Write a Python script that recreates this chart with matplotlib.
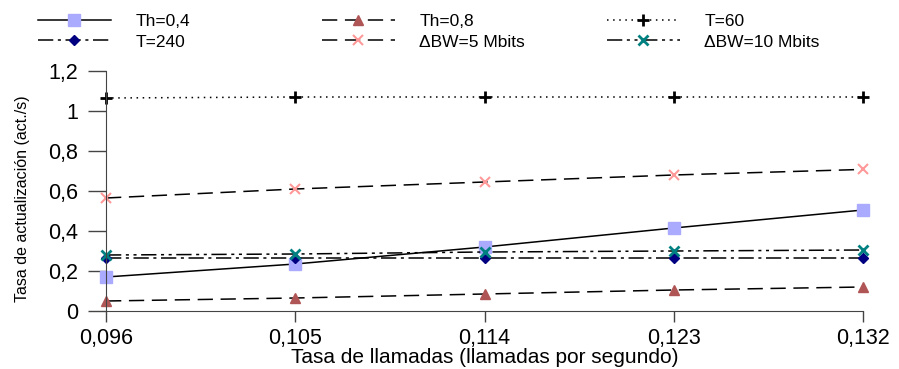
import matplotlib.pyplot as plt
from matplotlib.ticker import FuncFormatter

plt.rcParams['font.family'] = ['Liberation Sans', 'DejaVu Sans']

x = [0.096, 0.105, 0.114, 0.123, 0.132]
th04 = [0.17, 0.235, 0.32, 0.415, 0.505]
th08 = [0.05, 0.065, 0.085, 0.105, 0.12]
t60 = [1.065, 1.07, 1.07, 1.07, 1.07]
t240 = [0.267, 0.267, 0.267, 0.267, 0.267]
bw5 = [0.565, 0.61, 0.645, 0.68, 0.708]
bw10 = [0.28, 0.285, 0.295, 0.30, 0.305]
labels = ['Th=0,4', 'Th=0,8', 'T=60', 'T=240', '\u0394BW=5 Mbits', '\u0394BW=10 Mbits']

fig = plt.figure(figsize=(8.99, 3.69), dpi=100)
ax = fig.add_axes([106/899, 1 - 311/369, (863 - 106)/899, 240/369])

lw = 1.1
h = []
h += ax.plot(x, th04, '-', color='black', lw=lw, marker='s', ms=9, mfc='#aaaaff', mec='#aaaaff', label=labels[0], clip_on=False)
h += ax.plot(x, th08, color='black', lw=lw, ls=(0, (10, 5)), marker='^', ms=7, mfc='#b05555', mec='#b05555', label=labels[1], clip_on=False)
h += ax.plot(x, t60, color='black', lw=lw, ls=(0, (1, 3)), marker='+', ms=8, mew=2, mfc='black', mec='black', label=labels[2], clip_on=False)
h += ax.plot(x, t240, color='black', lw=lw, ls=(0, (10, 3, 2, 3)), marker='D', ms=5, mfc='#000080', mec='#000080', label=labels[3], clip_on=False)
h += ax.plot(x, bw5, color='black', lw=lw, ls=(0, (10, 5)), marker='x', ms=7, mew=1.5, mfc='#ff9999', mec='#ff9999', label=labels[4], clip_on=False)
h += ax.plot(x, bw10, color='black', lw=lw, ls=(0, (10, 3, 2, 3, 2, 3)), marker='x', ms=7, mew=2, mfc='#008080', mec='#008080', label=labels[5], clip_on=False)

ax.set_xlim(0.096, 0.132)
ax.set_ylim(0, 1.2)
ax.set_xticks(x)
ax.set_yticks([0, 0.2, 0.4, 0.6, 0.8, 1.0, 1.2])
ax.xaxis.set_major_formatter(FuncFormatter(lambda v, p: ('%.3f' % v).replace('.', ',')))
ax.yaxis.set_major_formatter(FuncFormatter(lambda v, p: ('%g' % round(v, 1)).replace('.', ',')))
ax.tick_params(direction='out', width=1, labelsize=15.5, color='#444444')
ax.tick_params(axis='x', length=8, pad=4)
ax.tick_params(axis='y', length=13, pad=7)
ax.spines['top'].set_visible(False)
ax.spines['right'].set_visible(False)
ax.spines['left'].set_color('#444444')
ax.spines['bottom'].set_color('#444444')
ax.set_xlabel('Tasa de llamadas (llamadas por segundo)', fontsize=15, va='baseline')
ax.xaxis.set_label_coords(0.5, (311 - 363) / 240)
ax.set_ylabel('Tasa de actualización (act./s)', fontsize=11.5, va='center')
ax.yaxis.set_label_coords((22 - 106) / 757, (311 - 199) / 240)

# three legend columns, row-wise order as in the original
for i, xa in enumerate([38, 322, 607]):
    leg = fig.legend([h[i], h[i + 3]], [labels[i], labels[i + 3]], loc='upper left',
                     bbox_to_anchor=(xa/899, 1 - 14/369), frameon=False, fontsize=12.5,
                     handlelength=4.2, handletextpad=1.4, labelspacing=0.3,
                     borderpad=0, borderaxespad=0)

fig.savefig('out.png', dpi=100)
